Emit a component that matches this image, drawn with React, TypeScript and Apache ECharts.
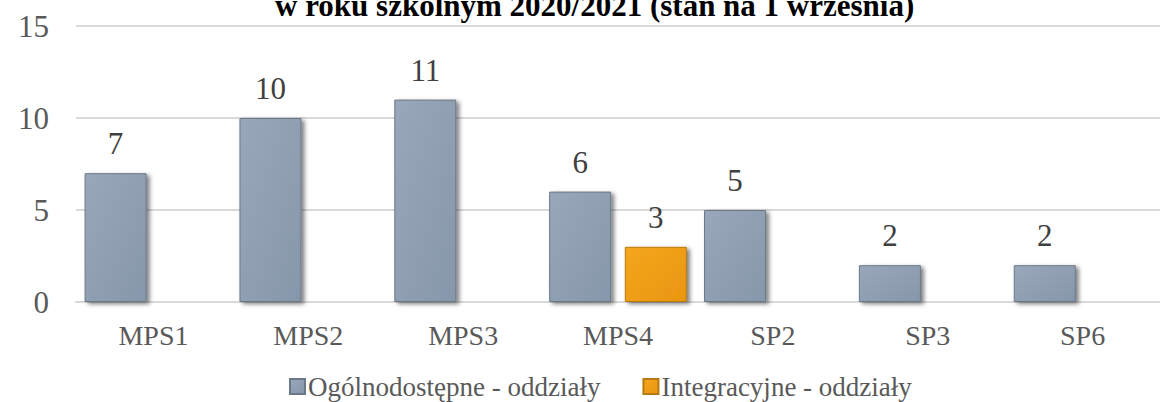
import React, { useEffect, useRef } from "react";
import * as echarts from "echarts";

const titleText = "w roku szkolnym 2020/2021 (stan na 1 września)";
const categories = ["MPS1", "MPS2", "MPS3", "MPS4", "SP2", "SP3", "SP6"];
const seriesNames = ["Ogólnodostępne - oddziały", "Integracyjne - oddziały"];
const generalValues: (number | null)[] = [7, 10, 11, 6, 5, 2, 2];
const integrationValues: (number | null)[] = [null, null, null, 3, null, null, null];
const yTicks = { min: 0, max: 15, interval: 5 };

const SERIF = "Liberation Serif";

export default function App() {
  const ref = useRef<HTMLDivElement>(null);
  useEffect(() => {
    if (!ref.current) return;
    const chart = echarts.init(ref.current, null, { renderer: "svg" });
    const grayFill = new echarts.graphic.LinearGradient(0, 0, 1, 1, [
      { offset: 0, color: "#98a7b9" },
      { offset: 1, color: "#8797ab" },
    ]);
    const orangeFill = new echarts.graphic.LinearGradient(0, 0, 1, 1, [
      { offset: 0, color: "#f4a61e" },
      { offset: 1, color: "#e9960f" },
    ]);
    const common = {
      type: "bar" as const,
      barWidth: 62,
      barGap: "22%",
      label: {
        show: true,
        position: "top" as const,
        distance: 14,
        fontFamily: SERIF,
        fontSize: 31,
        color: "#404040",
      },
    };
    chart.setOption({
      animation: false,
      backgroundColor: "#ffffff",
      title: {
        text: titleText,
        left: 270,
        top: -15,
        textStyle: {
          fontFamily: SERIF,
          fontSize: 31,
          fontWeight: "bold",
          color: "#000000",
        },
      },
      legend: {
        data: seriesNames,
        top: 368,
        left: 284,
        itemWidth: 15,
        itemHeight: 15,
        itemGap: 42,
        icon: "rect",
        textStyle: { fontFamily: SERIF, fontSize: 27, color: "#595959", padding: [0, 0, 0, -2] },
      },
      grid: { left: 76, right: -19, top: 26, bottom: 100, containLabel: false },
      xAxis: {
        type: "category",
        data: categories,
        axisLine: { show: true, lineStyle: { color: "#d9d9d9", width: 2 } },
        axisTick: { show: false },
        axisLabel: { fontFamily: SERIF, fontSize: 28, color: "#595959", margin: 19 },
      },
      yAxis: {
        type: "value",
        min: yTicks.min,
        max: yTicks.max,
        interval: yTicks.interval,
        axisLine: { show: false },
        axisTick: { show: false },
        splitLine: { lineStyle: { color: "#d9d9d9", width: 2 } },
        axisLabel: { fontFamily: SERIF, fontSize: 31, color: "#595959", margin: 27 },
      },
      series: [
        {
          ...common,
          name: seriesNames[0],
          data: generalValues,
          itemStyle: {
            color: grayFill,
            borderColor: "#6b7889",
            borderWidth: 1,
            shadowColor: "rgba(0,0,0,0.5)",
            shadowBlur: 4,
            shadowOffsetX: 3,
            shadowOffsetY: 2,
          },
        },
        {
          ...common,
          name: seriesNames[1],
          data: integrationValues,
          itemStyle: {
            color: orangeFill,
            borderColor: "#b87a10",
            borderWidth: 1,
            shadowColor: "rgba(0,0,0,0.5)",
            shadowBlur: 4,
            shadowOffsetX: 3,
            shadowOffsetY: 2,
          },
        },
      ],
    });
    return () => chart.dispose();
  }, []);
  return (
    <div
      ref={ref}
      style={{ position: "fixed", left: 0, top: 0, width: 1160, height: 402 }}
    />
  );
}
